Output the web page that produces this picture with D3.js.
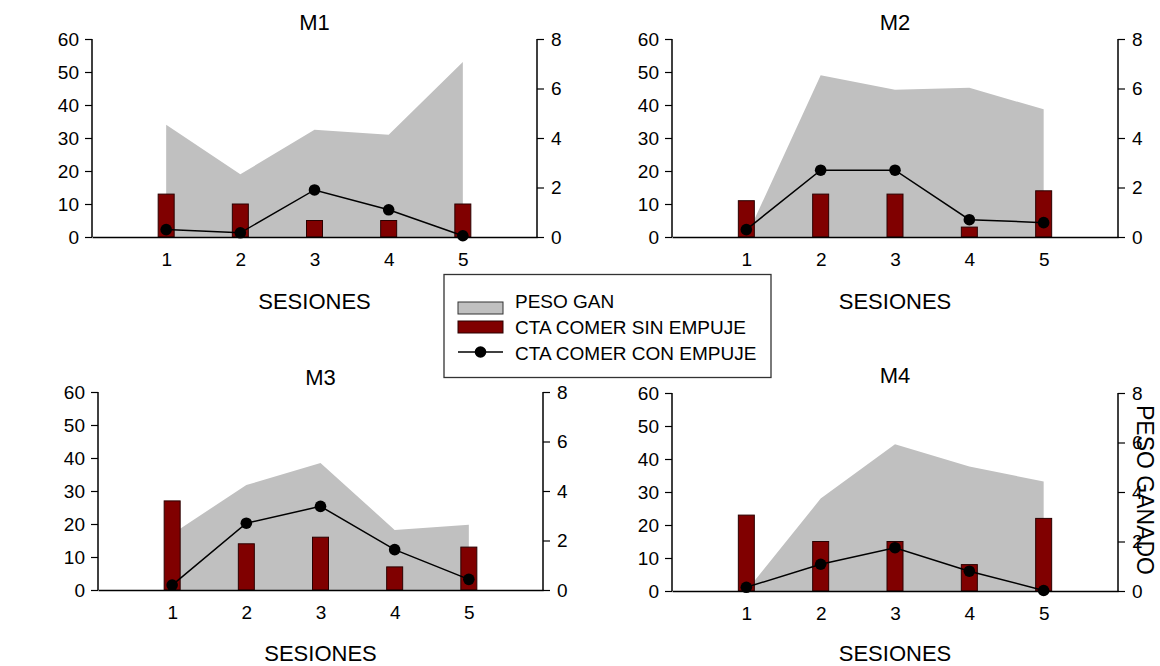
<!DOCTYPE html>
<html><head><meta charset="utf-8">
<script src="https://cdn.jsdelivr.net/npm/d3@7/dist/d3.min.js"></script>
<style>body{margin:0;background:#fff}svg{display:block;font-family:"Liberation Sans",Arial,sans-serif}</style>
</head><body><svg id="c" width="1160" height="666"></svg>
<script>
const sessions = [1, 2, 3, 4, 5];
const panelNames = ["M1", "M2", "M3", "M4"];
const leftTicks = [0, 10, 20, 30, 40, 50, 60];
const rightTicks = [0, 2, 4, 6, 8];
const legendLabels = ["PESO GAN", "CTA COMER SIN EMPUJE", "CTA COMER CON EMPUJE"];
const xTitle = "SESIONES";
const rightTitle = "PESO GANADO";

const pesoM1 = [34, 19, 32.5, 31, 53];
const sinM1 = [13, 10, 5, 5, 10];
const conM1 = [0.3, 0.17, 1.9, 1.1, 0.05];
const pesoM2 = [0, 49, 44.6, 45.2, 38.7];
const sinM2 = [11, 13, 13, 3, 14];
const conM2 = [0.3, 2.7, 2.7, 0.7, 0.58];
const pesoM3 = [17, 31.8, 38.5, 18.2, 19.8];
const sinM3 = [27, 14, 16, 7, 13];
const conM3 = [0.2, 2.7, 3.38, 1.63, 0.43];
const pesoM4 = [0, 28, 44.5, 37.7, 33.2];
const sinM4 = [23, 15, 15, 8, 22];
const conM4 = [0.15, 1.08, 1.75, 0.8, 0.02];

const series = {
  M1: {peso: pesoM1, sin: sinM1, con: conM1},
  M2: {peso: pesoM2, sin: sinM2, con: conM2},
  M3: {peso: pesoM3, sin: sinM3, con: conM3},
  M4: {peso: pesoM4, sin: sinM4, con: conM4}
};

// layout
const boxes = {
  M1: {l: 92, r: 537, t: 39, b: 237, titleY: 30, labY: 309},
  M2: {l: 672, r: 1118, t: 39, b: 237, titleY: 30, labY: 309},
  M3: {l: 98, r: 543, t: 392, b: 590, titleY: 385, labY: 661},
  M4: {l: 672, r: 1118, t: 393, b: 591, titleY: 383, labY: 661}
};
const GRAY = "#c0c0c0", RED = "#800000";

const svg = d3.select("#c");

panelNames.forEach(name => {
  const bx = boxes[name], d = series[name];
  const x = d3.scaleLinear().domain([0, 6]).range([bx.l, bx.r]);
  const yL = d3.scaleLinear().domain([0, 60]).range([bx.b, bx.t]);
  const yR = d3.scaleLinear().domain([0, 8]).range([bx.b, bx.t]);
  const g = svg.append("g");

  // area
  const area = d3.area().x((v, i) => x(sessions[i])).y0(yL(0)).y1(v => yL(v));
  g.append("path").datum(d.peso).attr("d", area).attr("fill", GRAY);

  // bars
  const bw = 16;
  g.selectAll("rect.bar").data(d.sin).join("rect")
    .attr("x", (v, i) => x(sessions[i]) - bw / 2)
    .attr("y", v => yL(v))
    .attr("width", bw)
    .attr("height", v => yL(0) - yL(v))
    .attr("fill", RED).attr("stroke", "#2a0000").attr("stroke-width", 1);

  // axes
  const ax = g.append("g").attr("transform", `translate(${bx.l},0)`)
    .call(d3.axisLeft(yL).tickValues(leftTicks).tickSize(7).tickPadding(6));
  const ar = g.append("g").attr("transform", `translate(${bx.r},0)`)
    .call(d3.axisRight(yR).tickValues(rightTicks).tickSize(7).tickPadding(7));
  const axb = g.append("g").attr("transform", `translate(0,${bx.b})`)
    .call(d3.axisBottom(x).tickValues(sessions).tickSize(0).tickPadding(16).tickFormat(d3.format("d")));
  [ax, ar, axb].forEach(a => {
    a.select(".domain").attr("stroke", "#000").attr("stroke-width", 1.5);
    a.selectAll(".tick line").attr("stroke", "#000").attr("stroke-width", 1.2);
    a.selectAll("text").attr("fill", "#000").style("font-size", "19px")
      .style("font-family", '"Liberation Sans",Arial,sans-serif');
  });
  ax.select(".domain").attr("d", `M0,${bx.t}H0V${bx.b}`);
  ar.select(".domain").attr("d", `M0,${bx.t}H0V${bx.b}`);

  // line + markers
  const line = d3.line().x((v, i) => x(sessions[i])).y(v => yR(v));
  g.append("path").datum(d.con).attr("d", line).attr("fill", "none")
    .attr("stroke", "#000").attr("stroke-width", 1.5);
  g.selectAll("circle.pt").data(d.con).join("circle")
    .attr("cx", (v, i) => x(sessions[i])).attr("cy", v => yR(v)).attr("r", 5.8)
    .attr("fill", "#000");

  // titles
  const cx = (bx.l + bx.r) / 2;
  g.append("text").attr("x", cx).attr("y", bx.titleY).attr("text-anchor", "middle")
    .style("font-size", "22px").text(name);
  g.append("text").attr("x", cx).attr("y", bx.labY).attr("text-anchor", "middle")
    .style("font-size", "22px").text(xTitle);
});

// right axis title (overlapping M4 right ticks)
svg.append("text").attr("transform", "translate(1137,490) rotate(90)")
  .attr("text-anchor", "middle").style("font-size", "23px").text(rightTitle);

// legend
const lg = svg.append("g");
lg.append("rect").attr("x", 444).attr("y", 274.5).attr("width", 327).attr("height", 103)
  .attr("fill", "#fff").attr("stroke", "#333").attr("stroke-width", 1.3);
const rows = [308, 334, 360];
lg.append("rect").attr("x", 458).attr("y", 302).attr("width", 45).attr("height", 12)
  .attr("fill", GRAY).attr("stroke", "#333").attr("stroke-width", 1);
lg.append("rect").attr("x", 458).attr("y", 321).attr("width", 45).attr("height", 12)
  .attr("fill", RED).attr("stroke", "#2a0000").attr("stroke-width", 1);
lg.append("line").attr("x1", 458).attr("x2", 503).attr("y1", 352).attr("y2", 352)
  .attr("stroke", "#000").attr("stroke-width", 1.5);
lg.append("circle").attr("cx", 480.5).attr("cy", 352).attr("r", 5.8).attr("fill", "#000");
lg.selectAll("text.lt").data(legendLabels).join("text")
  .attr("x", 515).attr("y", (t, i) => rows[i]).style("font-size", "19px").text(t => t);
</script></body></html>
